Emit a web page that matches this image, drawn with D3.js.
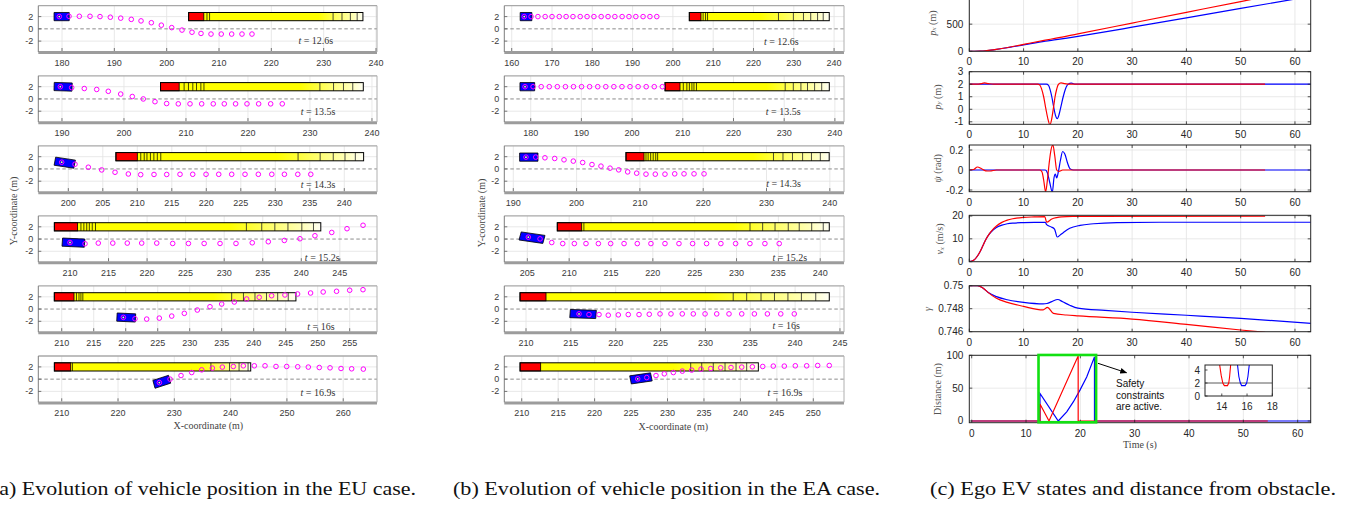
<!DOCTYPE html>
<html>
<head>
<meta charset="utf-8">
<script src="https://cdn.jsdelivr.net/npm/d3@7/dist/d3.min.js"></script>
<style>
  html, body { margin: 0; padding: 0; background: #fff; }
  svg { display: block; }
  .tk  { font-family: "Liberation Sans", Arial, Helvetica, sans-serif; font-size: 9px; fill: #3a3a3a; }
  .tkc { font-family: "Liberation Sans", Arial, Helvetica, sans-serif; font-size: 10px; fill: #262626; }
  .serif { font-family: "Liberation Serif", "Times New Roman", serif; }
</style>
</head>
<body>
<svg id="fig" width="1356" height="505"></svg>
<script>
// ===================== snapshot data (panels a, b) =====================
const snapTimes = ["12.6", "13.5", "14.3", "15.2", "16", "16.9"];

// EU case
const euDomain = [[175.47, 240.19], [186.18, 240.81], [195.65, 244.74], [205.89, 249.82], [206.34, 259.27], [205.84, 266.0]];
const euTickStep = [10, 10, 5, 5, 5, 10];
const euEgo = [[179.48, 2.0, 0], [189.73, 2.0, -0.03], [199.04, 1.1, -0.17], [210.0, -0.56, -0.06], [219.63, -1.36, -0.05], [227.34, -0.56, 0.29]];
const euPathX = [
  [179.48,181.34,183.31,185.35,187.26,189.23,191.22,193.24,195.10,197.07,198.98,200.96,202.93,204.84,206.56,208.47,210.43,212.42,214.39,216.30],
  [189.73,191.56,193.60,195.60,197.47,199.47,201.34,203.11,205.00,206.88,208.76,210.65,212.53,214.40,216.18,218.00,219.84,221.72,223.66,225.53],
  [199.04,200.97,202.90,204.84,206.77,208.70,210.49,212.42,214.26,216.19,218.03,219.96,221.80,223.68,225.61,227.54,229.49,231.32,233.26,235.14],
  [210.00,211.95,213.67,215.55,217.43,219.30,221.25,223.32,225.36,227.40,229.46,231.53,233.64,235.72,237.80,239.83,241.77,243.95,245.93,248.01],
  [219.63,221.45,223.28,225.25,227.19,229.16,231.19,233.17,235.00,236.97,238.90,240.86,242.80,244.88,246.86,248.89,250.86,252.95,255.00,257.08],
  [227.34,229.24,231.19,233.09,234.87,236.75,238.53,240.48,242.26,244.21,246.11,248.06,249.96,251.92,253.80,255.75,257.66,259.61,261.50,263.57]
];
const euPathY = [
  [2.0,2.05,2.05,2.05,2.0,1.9,1.75,1.55,1.3,1.0,0.6,0.2,-0.2,-0.55,-0.75,-0.85,-0.85,-0.85,-0.85,-0.85],
  [2.0,1.85,1.7,1.55,1.25,0.8,0.4,0.0,-0.45,-0.75,-0.8,-0.8,-0.8,-0.8,-0.8,-0.8,-0.8,-0.8,-0.8,-0.8],
  [1.1,0.77,0.28,-0.16,-0.54,-0.82,-0.93,-0.9,-0.9,-0.87,-0.87,-0.87,-0.87,-0.87,-0.87,-0.87,-0.87,-0.87,-0.87,-0.87],
  [-0.56,-0.77,-0.66,-0.66,-0.66,-0.66,-0.66,-0.72,-0.72,-0.72,-0.72,-0.72,-0.61,-0.44,-0.23,0.05,0.54,1.08,1.69,2.25],
  [-1.36,-1.59,-1.64,-1.48,-1.15,-0.7,-0.16,0.38,0.82,1.15,1.64,1.92,2.18,2.3,2.46,2.62,2.79,2.9,3.07,3.16],
  [-0.56,0.0,0.59,1.08,1.52,1.8,1.97,2.07,2.18,2.18,2.18,2.07,2.07,2.02,1.97,1.9,1.85,1.74,1.69,1.64]
];
// obstacle: [rear, end of current body, end of predicted envelope, start of fade]
const euObstacle = [[204.2, 207.1, 237.5, 229.0], [205.9, 208.9, 238.6, 228.4], [206.9, 210.0, 242.8, 230.2],
                    [207.97, 210.99, 242.53, 230.71], [208.84, 211.92, 246.6, 233.7], [208.69, 211.6, 243.57, 234.6]];
const euObsNear = [[207.7, 208.2], [209.7, 210.4, 211.1, 211.7, 212.4, 212.9], [210.5, 211.0, 211.4, 211.9, 212.4, 212.9, 213.4],
                   [211.42, 211.80, 212.17, 212.51, 212.89, 213.31], [212.3, 212.7, 213.0, 213.3], [211.9]];
const euObsFar = [[231.8, 233.5, 235.1, 236.4], [231.6, 233.8, 235.4, 236.9], [233.3, 236.5, 238.4, 240.1, 241.6],
                  [232.88, 234.87, 236.57, 238.27, 240.07, 241.58], [236.56, 238.4, 240.2, 242.0, 243.75, 245.4], [236.5, 239.8, 241.5, 243.1]];
const euLabelAt = [[228.5, -1.9], [231.3, -1.92], [236.2, -2.5], [242.72, -2.87], [250.5, -2.7], [255.5, -2.13]];

// EA case
const eaDomain = [[158.16, 242.46], [174.79, 241.8], [188.58, 242.24], [202.25, 242.84], [207.58, 245.45], [207.61, 254.21]];
const eaTickStep = [10, 10, 10, 5, 5, 5];
const eaEgo = [[163.1, 2.0, 0], [178.88, 2.0, 0], [192.0, 1.93, 0], [205.12, 0.31, -0.196], [215.91, -0.79, -0.05], [225.91, 0.05, 0.17]];
const eaPathX = [
  [163.1,164.8,166.5,168.3,170.0,171.8,173.5,175.2,177.0,178.7,180.4,182.2,183.9,185.6,187.4,189.1,190.8,192.6,194.3,196.0],
  [178.88,180.47,182.07,183.66,185.25,186.85,188.44,190.03,191.62,193.22,194.81,196.40,198.00,199.59,201.18,202.78,204.37,205.96],
  [192.0,193.54,195.0,196.54,198.01,199.48,200.96,202.43,203.85,205.28,206.65,208.07,209.49,210.96,212.43,213.96,215.5,216.97,218.55,220.13],
  [205.12,206.52,207.92,209.23,210.62,212.01,213.49,214.96,216.56,218.14,219.77,221.45,223.12,224.75,226.42,228.13,229.89,231.60,233.39,235.10],
  [215.91,217.02,218.14,219.17,220.29,221.40,222.60,223.74,224.94,226.16,227.42,228.65,229.96,231.26,232.63,234.05,235.46,236.91,238.40,239.91],
  [225.91,227.15,228.42,229.56,230.80,232.03,233.32,234.60,235.93,237.30,238.71,240.18,241.64,243.06,244.51,246.02,247.53,249.09,250.60,252.19]
];
const eaPathY = [
  [2,2,2,2,2,2,2,2,2,2,2,2,2,2,2,2,2,2,2,2],
  [2,2,2,2,2,2,2,2,2,2,2,2,2,2,2,2,2,2],
  [1.93,1.93,1.82,1.71,1.49,1.28,1.05,0.72,0.46,0.13,-0.15,-0.48,-0.69,-0.85,-0.85,-0.85,-0.8,-0.8,-0.8,-0.8],
  [0.31,0.03,-0.57,-0.74,-0.74,-0.74,-0.74,-0.74,-0.74,-0.74,-0.74,-0.74,-0.74,-0.74,-0.74,-0.74,-0.74,-0.74,-0.74,-0.74],
  [-0.79,-0.9,-0.9,-1.0,-0.95,-0.9,-0.9,-0.85,-0.79,-0.79,-0.79,-0.79,-0.79,-0.79,-0.79,-0.79,-0.79,-0.79,-0.79,-0.79],
  [0.05,0.26,0.59,0.87,1.08,1.31,1.48,1.64,1.74,1.85,1.9,1.97,2.02,2.07,2.13,2.13,2.18,2.18,2.23,2.23]
];
const eaObstacle = [[204.07, 206.97, 238.8, 221.6], [206.5, 209.45, 238.9, 226.5], [207.8, 210.65, 239.9, 227.9],
                    [208.58, 211.50, 241.08, 229.62], [209.33, 212.23, 243.81, 230.1], [209.77, 212.6, 242.46, 230.8]];
const eaObsNear = [[207.5, 208.1, 208.6], [210.1, 210.8, 211.3, 211.8, 212.2, 212.7], [210.96, 211.3, 211.7, 212.1, 212.5, 212.8],
                   [211.76], [], []];
const eaObsFar = [[226.2, 229.9, 232.4, 234.2, 235.9, 237.3], [230.2, 231.8, 233.3, 234.6, 236.0, 237.4], [231.1, 232.6, 234.1, 235.7, 237.1, 238.5],
                  [231.61, 233.12, 234.60, 236.18, 237.49, 238.98, 240.36], [233.1, 234.6, 236.2, 237.7, 239.2, 240.7, 242.3], [233.18, 234.69, 236.28, 237.89, 239.4, 240.86]];
const eaLabelAt = [[226.9, -1.92], [229.8, -1.92], [232.7, -2.23], [236.37, -2.87], [239.0, -2.6], [246.1, -2.13]];

// ===================== time-series data (panel c) =====================
const pxTimeEU = [0,1,2,3,4,5,6,8,10,14,16,20,30,40,50,54.5];
const pxEU     = [0,0.5,3.3,10,21.5,36,52,88,127,205,242,322,520,718,916,1005];
const pxTimeEA = [0,1,2,3,4,5,6,8,10,14,16,18,20,25,30,40,50,60,63];
const pxEA     = [0,0.5,3.3,10,21.4,35.3,51,84,118,186,214,244,276,358,444,616,790,962,1014];

const pyTimeEU = [0,1.5,2.2,2.8,3.5,4.5,12.6,13.0,13.3,13.7,14.1,14.5,14.85,15.15,15.5,15.8,16.1,16.4,16.9,17.6,18.5,54.5];
const pyEU     = [2,2,2.05,2.1,2.05,2,2,1.93,1.65,1.0,0.05,-0.8,-1.25,-0.85,0.1,1.0,1.6,1.98,2.1,2.05,2,2];
const pyTimeEA = [0,14.2,14.6,14.9,15.2,15.5,15.85,16.2,16.55,16.9,17.3,17.7,18.2,18.8,19.6,63];
const pyEA     = [2,2,1.9,1.55,1.0,0.3,-0.45,-0.75,-0.4,0.25,1.0,1.6,2.0,2.08,2.0,2];

const psiTimeEU = [0,0.8,1.5,2.2,3.0,3.8,5,13.0,13.4,13.7,14.07,14.35,14.7,15.05,15.4,15.75,16.1,16.5,17.2,54.5];
const psiEU     = [0,0.005,0.03,0.015,-0.008,-0.01,0,0,-0.02,-0.1,-0.22,-0.12,0.06,0.2,0.25,0.14,0.0,-0.015,0,0];
const psiTimeEA = [0,14.0,14.4,14.8,15.3,15.6,15.85,16.1,16.4,16.8,17.2,17.6,18.1,18.6,19.2,63];
const psiEA     = [0,0,-0.03,-0.12,-0.22,-0.08,-0.04,-0.08,-0.02,0.1,0.185,0.16,0.07,0.01,0,0];

const vTimeEU = [0,0.5,1,1.5,2,2.5,3,3.5,4,5,6,7,8,10,12,13.9,14.25,15.2,16.1,17,19,22,54.5];
const vEU     = [0,0.3,1,2.5,4.5,7,9.5,11.5,13.2,15.6,17.2,18.2,18.8,19.4,19.6,19.75,17.3,18.7,19.3,19.6,19.8,19.85,19.9];
const vTimeEA = [0,0.5,1,1.5,2,2.5,3,3.5,4,5,6,7,8,10,12,14.0,14.25,15.1,15.7,16.2,16.8,17.3,18.5,20.4,22.9,27.2,35,63];
const vEA     = [0,0.3,1,2.5,4.5,7,9.5,11.5,13.0,15.0,16.0,16.6,16.9,17.1,17.2,17.25,16.2,15.2,14.3,10.8,11.8,12.7,14.6,15.9,16.6,17.1,17.25,17.25];

const gammaTimeEU = [0,1.5,2.5,3.5,5,7,10,13.6,14.4,15.5,17.9,20.1,30,40,50,54.5];
const gammaEU     = [0.75,0.75,0.7498,0.7494,0.7489,0.74855,0.74820,0.74789,0.74812,0.74760,0.74745,0.74737,0.74710,0.74664,0.74615,0.74595];
const gammaTimeEA = [0,1.5,2.5,3.5,5,7,10,13.6,14.3,15.2,16.3,17.2,18.5,20,25,30,40,50,63];
const gammaEA     = [0.75,0.75,0.7498,0.7494,0.74905,0.74878,0.74855,0.74842,0.74845,0.74862,0.74880,0.74860,0.74830,0.74805,0.74785,0.74769,0.74743,0.74716,0.74673];

const distTimeEU = [0,12.57,12.57,14.23,19.55,19.6,19.6,54.5];
const distEU     = [0,0,26,0,98,98,0,0];
const distTimeEA = [0,12.57,12.57,15.94,17.49,18.7,19.93,21.17,22.57,22.6,22.6,63];
const distEA     = [0,0,42,0,14,29,47,67,97,97,0,0];

const insetTimeEU = [13.8,13.95,14.08,14.2,14.45,14.55,14.62,14.72];
const insetEU     = [5.2,3.2,2.0,1.6,1.6,2.0,3.0,5.2];
const insetTimeEA = [15.22,15.35,15.47,15.57,15.85,15.97,16.07,16.2];
const insetEA     = [5.2,3.0,2.0,1.6,1.6,2.0,3.0,5.2];
const safeDistance = 2;

const activeWindow = [12.3, 22.9];          // time span where safety constraints act
const activeRange  = [-2, 100.5];
const noteArrow = [[23.25, 87.8], [28.5, 73.5]];
const noteLines = ["Safety", "constraints", "are active."];

// ===================== drawing =====================
const svg = d3.select("#fig");
const defs = svg.append("defs");
const RED = "#ff0000", BLUE = "#0000ff";

// vertical layout of the six stacked snapshot axes
const rowTop = [5.7, 75.8, 145.8, 215.9, 285.9, 356.0];
const rowH = 46.3;
const laneY = 2, halfW = 0.67, carRear = 1.0, carFront = 1.9;

function drawSnapshots(id, left, right, d) {
  const g = svg.append("g");
  d.domain.forEach((dom, i) => {
    const top = rowTop[i], bot = top + rowH;
    const x = d3.scaleLinear().domain(dom).range([left, right]);
    const y = d3.scaleLinear().domain([-3.78, 3.78]).range([bot, top]);
    const step = d.step[i];
    const ticks = d3.range(Math.ceil(dom[0] / step) * step, dom[1] + 1e-6, step);
    const clip = `${id}-clip-${i}`;
    defs.append("clipPath").attr("id", clip).append("rect")
      .attr("x", left).attr("y", top).attr("width", right - left).attr("height", rowH);

    const ax = g.append("g");
    const plot = ax.append("g").attr("clip-path", `url(#${clip})`);

    // grid
    plot.selectAll(null).data(ticks).join("line")
      .attr("x1", v => x(v)).attr("x2", v => x(v)).attr("y1", top).attr("y2", bot)
      .attr("stroke", "#e2e2e2").attr("stroke-width", 0.8);
    plot.selectAll(null).data([-2, 2]).join("line")
      .attr("x1", left).attr("x2", right).attr("y1", v => y(v)).attr("y2", v => y(v))
      .attr("stroke", "#e2e2e2").attr("stroke-width", 0.8);
    // lane divider
    plot.append("line").attr("x1", left).attr("x2", right).attr("y1", y(0)).attr("y2", y(0))
      .attr("stroke", "#8c8c8c").attr("stroke-width", 1).attr("stroke-dasharray", "3.5,2.5");

    // obstacle vehicle and its predicted envelope
    const [o0, oBody, oEnd, oFade] = d.obstacle[i];
    const yT = y(laneY + halfW), yB = y(laneY - halfW);
    const gid = `${id}-fade-${i}`;
    const grad = defs.append("linearGradient").attr("id", gid).attr("gradientUnits", "userSpaceOnUse")
      .attr("x1", x(oFade)).attr("x2", x(oEnd)).attr("y1", 0).attr("y2", 0);
    [[0, "#ffff00"], [0.45, "#ffff6a"], [0.8, "#ffffb8"], [1, "#fffff4"]]
      .forEach(([o, c]) => grad.append("stop").attr("offset", o).attr("stop-color", c));
    plot.append("rect").attr("x", x(o0)).attr("y", yT).attr("width", x(oEnd) - x(o0)).attr("height", yB - yT)
      .attr("fill", `url(#${gid})`);
    plot.selectAll(null).data(d.near[i]).join("line")
      .attr("x1", v => x(v)).attr("x2", v => x(v)).attr("y1", yT).attr("y2", yB)
      .attr("stroke", "#1a1a00").attr("stroke-width", 0.8);
    plot.selectAll(null).data(d.far[i]).join("line")
      .attr("x1", v => x(v)).attr("x2", v => x(v)).attr("y1", yT).attr("y2", yB)
      .attr("stroke", "#222").attr("stroke-width", 0.8);
    plot.append("rect").attr("x", x(o0)).attr("y", yT).attr("width", x(oBody) - x(o0)).attr("height", yB - yT)
      .attr("fill", "#ff0000").attr("stroke", "#000").attr("stroke-width", 0.8);
    plot.append("rect").attr("x", x(o0)).attr("y", yT).attr("width", x(oEnd) - x(o0)).attr("height", yB - yT)
      .attr("fill", "none").attr("stroke", "#000").attr("stroke-width", 1);

    // ego vehicle
    const [ex, ey, eh] = d.ego[i];
    const pts = [[-carRear, -halfW], [carFront, -halfW], [carFront, halfW], [-carRear, halfW]]
      .map(([a, b]) => [x(ex + a * Math.cos(eh) - b * Math.sin(eh)), y(ey + a * Math.sin(eh) + b * Math.cos(eh))]);
    plot.append("polygon").attr("points", pts.map(p => p.join(",")).join(" "))
      .attr("fill", "#0000ff").attr("stroke", "#000").attr("stroke-width", 0.8);
    plot.append("circle").attr("cx", x(ex)).attr("cy", y(ey)).attr("r", 0.9).attr("fill", "#ffff80");

    // predicted ego path
    plot.selectAll(null).data(d.pathX[i]).join("circle")
      .attr("cx", v => x(v)).attr("cy", (v, k) => y(d.pathY[i][k])).attr("r", 2.3)
      .attr("fill", "none").attr("stroke", "#ff00ff").attr("stroke-width", 1);

    // time stamp
    const lab = ax.append("text").attr("class", "serif")
      .attr("x", x(d.label[i][0])).attr("y", y(d.label[i][1]))
      .attr("text-anchor", "middle").attr("dominant-baseline", "central")
      .attr("font-size", 10).attr("fill", "#333");
    lab.append("tspan").attr("font-style", "italic").text("t");
    lab.append("tspan").text(` = ${snapTimes[i]}s`);

    // frame
    ax.append("line").attr("x1", left).attr("x2", right).attr("y1", top).attr("y2", top)
      .attr("stroke", "#a8a8a8").attr("stroke-width", 1.3);
    ax.append("line").attr("x1", left).attr("x2", right).attr("y1", bot + 0.6).attr("y2", bot + 0.6)
      .attr("stroke", "#9c9c9c").attr("stroke-width", 3);
    ax.append("line").attr("x1", left).attr("x2", left).attr("y1", top).attr("y2", bot)
      .attr("stroke", "#7c7c7c").attr("stroke-width", 1);
    ax.append("line").attr("x1", right).attr("x2", right).attr("y1", top).attr("y2", bot)
      .attr("stroke", "#b0b0b0").attr("stroke-width", 1);
    // ticks
    ax.selectAll(null).data(ticks).join("line")
      .attr("x1", v => x(v)).attr("x2", v => x(v)).attr("y1", bot - 1).attr("y2", bot - 4)
      .attr("stroke", "#555").attr("stroke-width", 0.8);
    ax.selectAll(null).data([-2, 0, 2]).join("line")
      .attr("x1", left).attr("x2", left + 3).attr("y1", v => y(v)).attr("y2", v => y(v))
      .attr("stroke", "#555").attr("stroke-width", 0.8);
    ax.selectAll(null).data(ticks).join("text").attr("class", "tk")
      .attr("x", v => x(v)).attr("y", bot + 10.5).attr("text-anchor", "middle")
      .attr("dominant-baseline", "central").text(v => d3.format("d")(v));
    ax.selectAll(null).data([2, 0, -2]).join("text").attr("class", "tk")
      .attr("x", left - 5).attr("y", v => y(v)).attr("text-anchor", "end")
      .attr("dominant-baseline", "central").text(v => String(v));
  });
}

drawSnapshots("eu", 38.3, 377, {
  domain: euDomain, step: euTickStep, ego: euEgo, pathX: euPathX, pathY: euPathY,
  obstacle: euObstacle, near: euObsNear, far: euObsFar, label: euLabelAt
});
drawSnapshots("ea", 504.3, 844, {
  domain: eaDomain, step: eaTickStep, ego: eaEgo, pathX: eaPathX, pathY: eaPathY,
  obstacle: eaObstacle, near: eaObsNear, far: eaObsFar, label: eaLabelAt
});

// axis titles of the snapshot panels
function axisTitle(txt, x, y, rot) {
  svg.append("text").attr("class", "serif").attr("font-size", 10).attr("fill", "#444")
    .attr("text-anchor", "middle").attr("dominant-baseline", "central")
    .attr("transform", `translate(${x},${y})` + (rot ? " rotate(-90)" : "")).text(txt);
}
axisTitle("X-coordinate (m)", 208.3, 425.8, false);
axisTitle("X-coordinate (m)", 673.3, 426, false);
axisTitle("Y-coordinate (m)", 13.3, 211, true);
axisTitle("Y-coordinate (m)", 481.7, 213, true);

// ===================== panel (c): ego states =====================
const cLeft = 969.3, cRight = 1310.7;
const line = d3.line().curve(d3.curveMonotoneX);
const lineLin = d3.line();

function stateAxes(k, top, bot, yDom, yTicks, yFmt, xDom, series, linear) {
  const x = d3.scaleLinear().domain(xDom).range([cLeft, cRight]);
  const y = d3.scaleLinear().domain(yDom).range([bot, top]);
  const g = svg.append("g");
  const clip = `c-clip-${k}`;
  defs.append("clipPath").attr("id", clip).append("rect")
    .attr("x", cLeft).attr("y", top).attr("width", cRight - cLeft).attr("height", bot - top);
  const xt = d3.range(0, 61, 10);
  g.selectAll(null).data(xt).join("line")
    .attr("x1", v => x(v)).attr("x2", v => x(v)).attr("y1", Math.max(top, 0)).attr("y2", bot)
    .attr("stroke", "#e3e3e3").attr("stroke-width", 0.8);
  g.selectAll(null).data(yTicks).join("line")
    .attr("x1", cLeft).attr("x2", cRight).attr("y1", v => y(v)).attr("y2", v => y(v))
    .attr("stroke", "#e3e3e3").attr("stroke-width", 0.8);
  const p = g.append("g").attr("clip-path", `url(#${clip})`);
  series.forEach(s => {
    const pts = s.t.map((t, i) => [x(t), y(s.v[i])]);
    p.append("path").attr("d", (linear ? lineLin : line)(pts))
      .attr("fill", "none").attr("stroke", s.color).attr("stroke-width", 1.2);
  });
  // box
  g.append("rect").attr("x", cLeft).attr("y", top).attr("width", cRight - cLeft).attr("height", bot - top)
    .attr("fill", "none").attr("stroke", "#262626").attr("stroke-width", 1);
  // ticks
  g.selectAll(null).data(xt).join("line")
    .attr("x1", v => x(v)).attr("x2", v => x(v)).attr("y1", bot).attr("y2", bot - 3)
    .attr("stroke", "#262626").attr("stroke-width", 0.8);
  g.selectAll(null).data(xt).join("line")
    .attr("x1", v => x(v)).attr("x2", v => x(v)).attr("y1", top).attr("y2", top + 3)
    .attr("stroke", "#262626").attr("stroke-width", 0.8);
  g.selectAll(null).data(yTicks).join("line")
    .attr("x1", cLeft).attr("x2", cLeft + 3).attr("y1", v => y(v)).attr("y2", v => y(v))
    .attr("stroke", "#262626").attr("stroke-width", 0.8);
  g.selectAll(null).data(yTicks).join("line")
    .attr("x1", cRight).attr("x2", cRight - 3).attr("y1", v => y(v)).attr("y2", v => y(v))
    .attr("stroke", "#262626").attr("stroke-width", 0.8);
  g.selectAll(null).data(xt).join("text").attr("class", "tkc")
    .attr("x", v => x(v)).attr("y", bot + 10.4).attr("text-anchor", "middle")
    .attr("dominant-baseline", "central").text(v => String(v));
  // only labels that fall inside the figure
  g.selectAll(null).data(yTicks.filter(v => y(v) >= 4)).join("text").attr("class", "tkc")
    .attr("x", cLeft - 6).attr("y", v => y(v)).attr("text-anchor", "end")
    .attr("dominant-baseline", "central").text(yFmt);
  return { x, y, g };
}

function yLabel(x, y, parts) {
  const t = svg.append("text").attr("class", "serif").attr("font-size", 10).attr("fill", "#555")
    .attr("text-anchor", "middle").attr("dominant-baseline", "central")
    .attr("transform", `translate(${x},${y}) rotate(-90)`);
  parts.forEach(([txt, style]) => {
    const s = t.append("tspan").text(txt);
    if (style === "i") s.attr("font-style", "italic");
    if (style === "sub") s.attr("font-style", "italic").attr("font-size", 7).attr("dy", 2.5);
    if (style === "after") s.attr("dy", -2.5);
  });
}

const xFull = [0, 62.9];
stateAxes(0, -3, 51.3, [0, 1000], [0, 500, 1000], v => String(v), xFull,
  [{ t: pxTimeEA, v: pxEA, color: BLUE }, { t: pxTimeEU, v: pxEU, color: RED }]);
stateAxes(1, 71.7, 124.3, [-1.2, 3], [-1, 0, 1, 2, 3], v => String(v), xFull,
  [{ t: pyTimeEA, v: pyEA, color: BLUE }, { t: pyTimeEU, v: pyEU, color: RED }]);
stateAxes(2, 145, 191.7, [-0.217, 0.25], [-0.2, 0, 0.2], v => String(v), xFull,
  [{ t: psiTimeEA, v: psiEA, color: BLUE }, { t: psiTimeEU, v: psiEU, color: RED }]);
stateAxes(3, 215.3, 261.7, [0, 20.3], [0, 10, 20], v => String(v), xFull,
  [{ t: vTimeEA, v: vEA, color: BLUE }, { t: vTimeEU, v: vEU, color: RED }]);
stateAxes(4, 285.7, 331.7, [0.746, 0.75], [0.746, 0.748, 0.75], v => String(+v.toFixed(3)), xFull,
  [{ t: gammaTimeEA, v: gammaEA, color: BLUE }, { t: gammaTimeEU, v: gammaEU, color: RED }]);
const dAx = stateAxes(5, 355.3, 422.7, [-2.6, 100], [0, 50, 100], v => String(v), [-0.44, 62.4],
  [{ t: distTimeEA, v: distEA, color: BLUE }, { t: distTimeEU, v: distEU, color: RED }], true);

yLabel(931.7, 23, [["p", "i"], ["x", "sub"], [" (m)", "after"]]);
yLabel(936.7, 97, [["p", "i"], ["y", "sub"], [" (m)", "after"]]);
yLabel(936.7, 168.3, [["ψ", "i"], [" (rad)", ""]]);
yLabel(939, 239, [["v", "i"], ["x", "sub"], [" (m/s)", "after"]]);
yLabel(927, 309, [["γ", "i"]]);
yLabel(936.7, 389, [["Distance (m)", ""]]);
axisTitle("Time (s)", 1140, 444.5, false);

// active-constraint window
dAx.g.append("rect")
  .attr("x", dAx.x(activeWindow[0])).attr("y", dAx.y(activeRange[1]))
  .attr("width", dAx.x(activeWindow[1]) - dAx.x(activeWindow[0]))
  .attr("height", dAx.y(activeRange[0]) - dAx.y(activeRange[1]))
  .attr("fill", "none").attr("stroke", "#12e012").attr("stroke-width", 2.6);

// annotation arrow and note
defs.append("marker").attr("id", "arrowHead").attr("viewBox", "0 0 10 10").attr("refX", 9).attr("refY", 5)
  .attr("markerWidth", 7).attr("markerHeight", 7).attr("orient", "auto").attr("markerUnits", "userSpaceOnUse")
  .append("path").attr("d", "M0,1 L10,5 L0,9 z").attr("fill", "#000");
dAx.g.append("line")
  .attr("x1", dAx.x(noteArrow[0][0])).attr("y1", dAx.y(noteArrow[0][1]))
  .attr("x2", dAx.x(noteArrow[1][0])).attr("y2", dAx.y(noteArrow[1][1]))
  .attr("stroke", "#000").attr("stroke-width", 1).attr("marker-end", "url(#arrowHead)");
dAx.g.selectAll(null).data(noteLines).join("text")
  .attr("x", dAx.x(noteArrow[1][0]) - 10.5).attr("y", (s, i) => dAx.y(noteArrow[1][1]) + 11 + i * 11.4)
  .attr("dominant-baseline", "central")
  .attr("font-family", "Liberation Sans, Arial, sans-serif").attr("font-size", 10).attr("fill", "#111")
  .text(s => s);

// inset: close-up of the minimum distance
(function inset() {
  const L = 1205, R = 1272.3, T = 365, B = 396;
  const x = d3.scaleLinear().domain([12.67, 18]).range([L, R]);
  const y = d3.scaleLinear().domain([0, 4.77]).range([B, T]);
  const g = svg.append("g");
  g.append("rect").attr("x", L).attr("y", T).attr("width", R - L).attr("height", B - T).attr("fill", "#fff");
  defs.append("clipPath").attr("id", "inset-clip").append("rect")
    .attr("x", L).attr("y", T).attr("width", R - L).attr("height", B - T);
  const p = g.append("g").attr("clip-path", "url(#inset-clip)");
  p.append("line").attr("x1", L).attr("x2", R).attr("y1", y(safeDistance)).attr("y2", y(safeDistance))
    .attr("stroke", "#5a5a5a").attr("stroke-width", 1);
  [[insetTimeEU, insetEU, RED], [insetTimeEA, insetEA, BLUE]].forEach(([tt, vv, c]) => {
    p.append("path").attr("d", lineLin(tt.map((t, i) => [x(t), y(vv[i])])))
      .attr("fill", "none").attr("stroke", c).attr("stroke-width", 1.1);
  });
  g.append("rect").attr("x", L).attr("y", T).attr("width", R - L).attr("height", B - T)
    .attr("fill", "none").attr("stroke", "#262626").attr("stroke-width", 1);
  const xt = [14, 16, 18], yt = [0, 2, 4];
  g.selectAll(null).data(xt).join("line").attr("x1", v => x(v)).attr("x2", v => x(v))
    .attr("y1", B).attr("y2", B - 2.5).attr("stroke", "#262626").attr("stroke-width", 0.8);
  g.selectAll(null).data(yt).join("line").attr("x1", L).attr("x2", L + 2.5)
    .attr("y1", v => y(v)).attr("y2", v => y(v)).attr("stroke", "#262626").attr("stroke-width", 0.8);
  g.selectAll(null).data(xt).join("text").attr("class", "tkc").attr("x", v => x(v)).attr("y", B + 10)
    .attr("text-anchor", "middle").attr("dominant-baseline", "central").text(v => String(v));
  g.selectAll(null).data(yt).join("text").attr("class", "tkc").attr("x", L - 5).attr("y", v => y(v))
    .attr("text-anchor", "end").attr("dominant-baseline", "central").text(v => String(v));
})();

// ===================== captions =====================
const captions = [
  ["(a) Evolution of vehicle position in the EU case.", -8, 424],
  ["(b) Evolution of vehicle position in the EA case.", 453, 427],
  ["(c) Ego EV states and distance from obstacle.", 930, 406]
];
svg.selectAll(null).data(captions).join("text").attr("class", "serif")
  .attr("x", c => c[1]).attr("y", 495).attr("font-size", 19.5).attr("fill", "#111")
  .attr("textLength", c => c[2]).attr("lengthAdjust", "spacingAndGlyphs")
  .text(c => c[0]);
</script>
</body>
</html>
